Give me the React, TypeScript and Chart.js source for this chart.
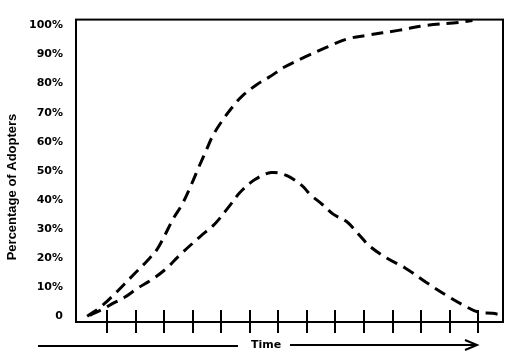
import React, { useEffect, useRef } from "react";
import { Chart, registerables } from "chart.js";

Chart.register(...registerables);

// Cumulative adoption (S-curve)
const cumulativeX = [0.3, 0.75, 1.2, 1.6, 2.0, 2.4, 2.75, 3.03, 3.31, 3.63, 3.94, 4.2, 4.45, 4.7, 5.03, 5.42, 5.73, 6.25, 6.71, 7.2, 7.9, 8.7, 9.4, 10.1, 11.2, 12.2, 13.3, 13.8];
const cumulativeY = [0, 3, 7, 11, 15, 19, 23, 28, 33.4, 38.5, 45, 51, 56.5, 62, 67.2, 72.3, 75.7, 79.7, 82.4, 85.6, 89, 92.5, 95.3, 96.6, 98.3, 100, 101, 101.7];

// Adopters per period (bell curve)
const periodX = [0.4, 0.9, 1.2, 1.6, 2.05, 2.6, 3.1, 3.5, 4.26, 4.78, 5.31, 5.66, 6.18, 6.75, 7.3, 7.83, 8.11, 8.53, 8.92, 9.41, 9.79, 10.21, 10.81, 11.44, 12.2, 12.9, 13.5, 14.0, 14.5, 14.87];
const periodY = [0.3, 2.7, 4.4, 6.4, 9.5, 12.8, 16.6, 20.6, 27.4, 31.8, 38.2, 42.6, 47, 49.4, 48.3, 44.9, 41.9, 38.5, 35.1, 32.4, 28.4, 24, 19.9, 16.6, 11.5, 7.1, 3.7, 1.4, 1, 0.3];

const yTickValues = [0, 10, 20, 30, 40, 50, 60, 70, 80, 90, 100];
const timeTicks = [1, 2, 3, 4, 5, 6, 7, 8, 9, 10, 11, 12, 13, 14];

const yTitle = "Percentage of Adopters";
const xTitle = "Time";

const decorPlugin = {
  id: "decor",
  afterDraw(chart: any) {
    const { ctx, chartArea } = chart;
    const { left, top, right, bottom } = chartArea;
    const xs = chart.scales.x;
    ctx.save();
    ctx.strokeStyle = "#000";
    ctx.fillStyle = "#000";
    ctx.lineWidth = 2;
    ctx.strokeRect(left, top, right - left, bottom - top);
    // tick marks crossing the time axis
    for (const v of timeTicks) {
      const x = Math.round(xs.getPixelForValue(v));
      ctx.beginPath();
      ctx.moveTo(x, bottom - 12);
      ctx.lineTo(x, bottom + 11);
      ctx.stroke();
    }
    // y title
    ctx.save();
    ctx.translate(12, 187);
    ctx.rotate(-Math.PI / 2);
    ctx.font = "bold 13px 'Liberation Sans', Arial, sans-serif";
    ctx.textAlign = "center";
    ctx.textBaseline = "middle";
    ctx.fillText(yTitle, 0, 0);
    ctx.restore();
    // time arrow
    const ay = 345;
    ctx.lineWidth = 2;
    ctx.beginPath();
    ctx.moveTo(38, ay + 1);
    ctx.lineTo(238, ay + 1);
    ctx.moveTo(290, ay);
    ctx.lineTo(477, ay);
    ctx.moveTo(465, ay - 5);
    ctx.lineTo(477, ay);
    ctx.lineTo(465, ay + 5);
    ctx.stroke();
    ctx.font = "bold 11px 'DejaVu Sans', sans-serif";
    ctx.textAlign = "center";
    ctx.textBaseline = "middle";
    ctx.fillText(xTitle, 266, ay);
    ctx.restore();
  },
};

export default function App() {
  const ref = useRef<HTMLCanvasElement>(null);
  useEffect(() => {
    if (!ref.current) return;
    const chart = new Chart(ref.current, {
      type: "line",
      data: {
        datasets: [
          {
            data: cumulativeX.map((x, i) => ({ x, y: cumulativeY[i] })),
            borderColor: "#000",
            borderWidth: 3,
            borderDash: [12, 7],
            pointRadius: 0,
            tension: 0.35,
            fill: false,
          },
          {
            data: periodX.map((x, i) => ({ x, y: periodY[i] })),
            borderColor: "#000",
            borderWidth: 3,
            borderDash: [12, 7],
            pointRadius: 0,
            tension: 0.35,
            fill: false,
          },
        ],
      },
      options: {
        animation: false,
        responsive: true,
        maintainAspectRatio: false,
        layout: { padding: { left: 0, top: 14, right: 20, bottom: 0 } },
        plugins: { legend: { display: false }, tooltip: { enabled: false } },
        scales: {
          x: {
            type: "linear",
            min: -0.09,
            max: 14.87,
            ticks: { display: false },
            grid: { display: false },
            border: { display: false },
            afterBuildTicks: (s: any) => {
              s.ticks = timeTicks.map((v) => ({ value: v }));
            },
            afterFit: (s: any) => {
              s.height = 36;
            },
          },
          y: {
            type: "linear",
            min: -2,
            max: 102,
            grid: { display: false, drawTicks: false },
            border: { display: false },
            afterBuildTicks: (s: any) => {
              s.ticks = yTickValues.map((v) => ({ value: v }));
            },
            afterFit: (s: any) => {
              s.width = 76;
            },
            ticks: {
              padding: 13,
              color: "#000",
              font: { family: "'DejaVu Sans', sans-serif", size: 11, weight: "bold" },
              callback: (v: any) => (v === 0 ? "0" : v + "%"),
            },
          },
        },
      },
      plugins: [decorPlugin],
    });
    return () => chart.destroy();
  }, []);
  return (
    <div style={{ position: "fixed", left: 0, top: 0, width: 523, height: 358, background: "#fff" }}>
      <canvas ref={ref} />
    </div>
  );
}
